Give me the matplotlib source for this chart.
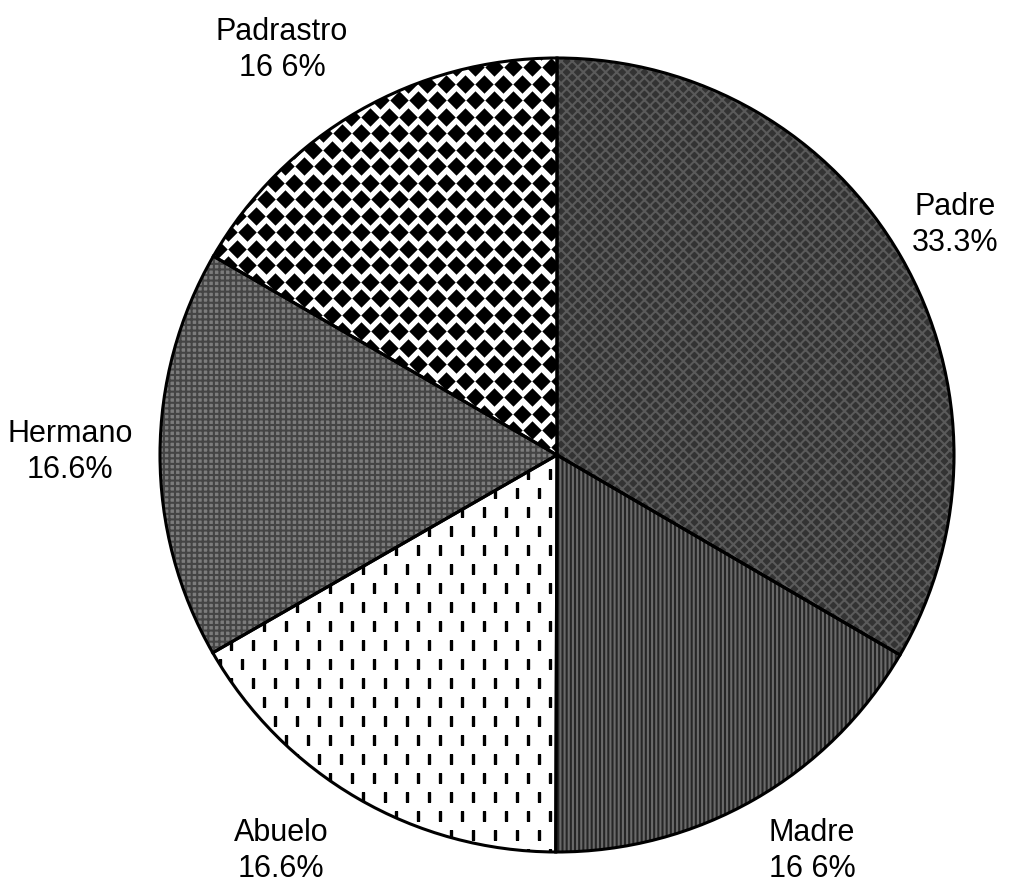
import numpy as np
import matplotlib.pyplot as plt

# data
labels = ["Padre", "Madre", "Abuelo", "Hermano", "Padrastro"]
shares = [33.3, 16.6, 16.6, 16.6, 16.6]
pct_text = ["33.3%", "16 6%", "16.6%", "16.6%", "16 6%"]

# fills (scanned halftone textures approximated with hatches)
face = ["#333333", "#262626", "white", "#7c7c7c", "white"]
hatches = ["xxx", "||||", None, "+++", None]
hatch_col = ["#5a5a5a", "#6a6a6a", "white", "#444444", "white"]

# label layout in pixels (x, y from top)
label_pos = [(955, 225), (812, 851), (281, 851), (70, 452), (282, 50)]

W, H = 1015, 892
cx, cy, R = 557, H - 455, 397

plt.rcParams['font.family'] = ['Liberation Sans', 'DejaVu Sans']
plt.rcParams['hatch.linewidth'] = 1.5

fig = plt.figure(figsize=(W / 100, H / 100), dpi=100)
ax = fig.add_axes([0, 0, 1, 1])

wedges, _ = ax.pie(shares, startangle=90, counterclock=False, center=(cx, cy),
                   radius=R, colors=face, wedgeprops=dict(linewidth=0))
for w, h, hc in zip(wedges, hatches, hatch_col):
    w.set_edgecolor(hc)
    if h:
        w.set_hatch(h)

# Padrastro: black diamond checker
gx = np.arange(0, W, 19.0)
gy = np.arange(0, H, 16.5)
dx, dy = [], []
for j, y in enumerate(gy):
    for x in gx:
        dx.append(x + (9.5 if j % 2 else 0))
        dy.append(y)
sc = ax.scatter(dx, dy, marker='D', s=88, c='black', linewidths=0, zorder=3)
sc.set_clip_path(wedges[4])

# Abuelo: sparse vertical dashes
ax_, ay_ = [], []
for j, y in enumerate(np.arange(0, H, 19.0)):
    for x in np.arange(0, W, 22.0):
        ax_.append(x + (11 if j % 2 else 0))
        ay_.append(y)
sc2 = ax.scatter(ax_, ay_, marker='|', s=45, c='black', linewidths=2.4, zorder=3)
sc2.set_clip_path(wedges[2])

# outlines
ax.pie(shares, startangle=90, counterclock=False, center=(cx, cy), radius=R,
       wedgeprops=dict(fill=False, edgecolor='black', linewidth=2.2))
for w in ax.patches[-5:]:
    w.set_zorder(5)

for name, pct, (x, y) in zip(labels, pct_text, label_pos):
    ax.text(x, H - y, name + "\n" + pct, ha='center', va='center',
            fontsize=22, linespacing=1.3, color='black')

ax.set_xlim(0, W)
ax.set_ylim(0, H)
ax.set_aspect('equal')
ax.axis('off')

fig.savefig("out.png", dpi=100, facecolor='white')
